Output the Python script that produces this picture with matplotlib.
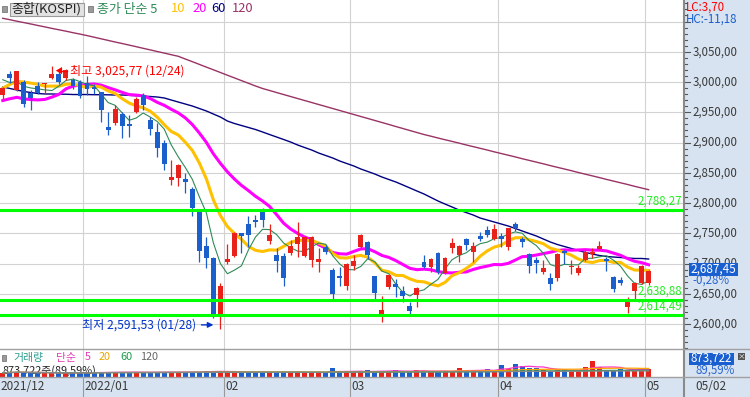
import matplotlib
matplotlib.use('Agg')
import matplotlib.pyplot as plt
import numpy as np
import pandas as pd
from matplotlib.patches import Rectangle, Polygon

plt.rcParams['font.family'] = ['Noto Sans CJK KR', 'DejaVu Sans']

# ---------------- data ----------------
dates = pd.bdate_range('2021-12-15', '2022-05-02', freq='C',
                       holidays=['2021-12-31', '2022-01-31', '2022-02-01', '2022-02-02',
                                 '2022-03-01', '2022-03-09'])

opens = [2978, 3013, 2987, 3000, 2982, 2993, 2996, 3007, 3014, 3006, 3003, 3000,
         2998, 2992, 2983, 2926, 2932, 2947, 2931, 2950, 2978, 2937, 2918, 2900, 2838, 2841, 2839, 2823, 2786, 2729, 2709, 2617,
         2703, 2712, 2750, 2766, 2772, 2787, 2738, 2714, 2712, 2718, 2732, 2712, 2705, 2703, 2728, 2689, 2679, 2662,
         2696, 2728, 2736, 2679, 2617, 2661, 2666, 2655, 2630, 2648, 2703, 2695, 2718, 2685, 2725, 2714, 2740, 2719.5, 2745.5, 2755, 2740,
         2746, 2728, 2766, 2740, 2716, 2706, 2685.5, 2676, 2675.5, 2720, 2694, 2684, 2706, 2716, 2724, 2707, 2678, 2673, 2628.6, 2655, 2667,
         2667.5]
highs = [2992, 3019, 3019, 3003, 2987, 3000, 2999, 3025.77, 3018, 3022, 3006, 3003,
         3010, 2996, 2984, 2951, 2962, 2951, 2945, 2975, 2981, 2942, 2932, 2904, 2871, 2864, 2849, 2827, 2787, 2744, 2711, 2668,
         2733, 2752, 2751, 2778, 2780, 2791, 2766, 2725, 2717, 2739, 2769, 2746, 2745, 2725, 2730, 2692, 2694, 2701,
         2714, 2748, 2738, 2680, 2646, 2681, 2674, 2662, 2637, 2661, 2714, 2709, 2719, 2710, 2742, 2731, 2742, 2736, 2752.6, 2762, 2765,
         2750, 2759, 2769, 2743, 2718, 2711, 2706, 2684, 2717, 2722, 2706, 2697, 2722, 2725, 2737, 2711, 2680, 2678, 2644, 2670, 2697,
         2690]
lows = [2970, 2998, 2985, 2958, 2954, 2980, 2980, 3005, 2996, 3004, 2989, 2974,
        2978, 2980, 2934, 2912, 2929, 2908, 2909, 2948, 2954, 2912, 2876, 2855, 2830, 2828, 2816, 2778, 2703, 2692, 2610, 2591.53,
        2700, 2710, 2718, 2728, 2761, 2761, 2733, 2686, 2663, 2714, 2710, 2710, 2694, 2686, 2716, 2642, 2663, 2656,
        2689, 2725, 2708, 2642, 2604, 2658, 2644, 2637, 2617, 2628, 2692, 2686, 2683, 2683, 2718, 2703, 2722, 2703, 2737.7, 2743, 2739,
        2728, 2722, 2754, 2728, 2685, 2684, 2683, 2656, 2671, 2700, 2683, 2681, 2704, 2709, 2723, 2688, 2653, 2664, 2617.7, 2641, 2666,
        2664]
closes = [2989.39, 3006.41, 3017.73, 2963.00, 2974.0, 2982.0, 2998.17, 3012.43, 2999.55, 3020.24, 2993.29, 2977.65,
          2988.77, 2989.24, 2953.97, 2920.53, 2954.89, 2926.72, 2927.38, 2972.48, 2962.09, 2921.92, 2890.10, 2864.24, 2842.28,
          2862.68, 2834.29, 2792.00, 2720.39, 2709.24, 2614.49, 2663.34,
          2707.82, 2750.26, 2745.06, 2746.47, 2768.85, 2771.93, 2747.71, 2704.48, 2676.54, 2729.68, 2744.09, 2744.52, 2743.80,
          2706.79, 2719.53, 2648.80, 2676.76, 2699.18,
          2703.52, 2747.08, 2713.43, 2651.31, 2622.40, 2680.32, 2661.28, 2645.65, 2621.53, 2659.23, 2694.51, 2707.62, 2686.05,
          2708.6, 2734.4, 2729.0, 2729.98, 2729.56, 2741.07, 2746.74, 2757.65,
          2739.85, 2757.90, 2759.20, 2735.03, 2695.86, 2700.39, 2693.10, 2666.76, 2716.49, 2716.71, 2696.06, 2693.21, 2718.69,
          2718.89, 2728.21, 2704.71, 2657.13, 2668.31, 2639.06, 2667.48, 2695.05,
          2687.45]
# closes of the 19 sessions before the first candle (for the 5/10/20 moving averages)
prior_closes = [2947.38, 2971.02, 3013.25, 2997.33, 2994.29, 2980.27, 2936.44, 2909.32, 2839.01, 2899.72,
                2945.27, 2968.33, 2973.25, 2991.72, 3001.80, 3029.57, 3010.23, 3001.66, 2987.95]

ma60 = [2991.7, 2989.3, 2986.8, 2984.3, 2982.6, 2981.0, 2980.2, 2980.2, 2979.8, 2979.8, 2979.3, 2979.3, 2979.3, 2979.0,
        2979.0, 2978.8, 2978.5, 2978.5, 2978.0, 2977.3, 2976.9, 2976.0, 2975.2, 2973.6, 2970.2, 2966.9, 2963.6, 2960.3,
        2956.2, 2952.1, 2947.1, 2942.1, 2935.5, 2931.4, 2928.1, 2924.8, 2921.5, 2917.4, 2913.2, 2909.1, 2905.0, 2900.8,
        2895.9, 2891.7, 2887.6, 2882.6, 2878.5, 2874.4, 2869.4, 2865.3, 2861.2, 2856.2, 2852.1, 2847.9, 2843.0, 2838.8,
        2834.7, 2829.8, 2824.8, 2819.8, 2814.9, 2809.1, 2803.3, 2798.3, 2793.4, 2788.4, 2784.3, 2780.2, 2775.2, 2771.9,
        2768.6, 2765.3, 2762.0, 2757.9, 2753.7, 2749.6, 2745.5, 2740.5, 2735.5, 2731.4, 2728.1, 2724.8, 2721.5, 2718.2,
        2715.7, 2713.2, 2711.6, 2710.7, 2709.9, 2709.1, 2708.3, 2708.3, 2707.4]
ma120 = [3105.3, 3103.0, 3100.5, 3098.2, 3095.9, 3093.4, 3091.1, 3088.6, 3086.3, 3084.0, 3081.5, 3079.2, 3076.7, 3074.1,
         3071.4, 3068.8, 3066.1, 3063.6, 3061.0, 3058.4, 3055.7, 3053.1, 3050.4, 3047.8, 3045.1, 3042.5, 3038.0, 3033.6,
         3029.1, 3024.6, 3020.2, 3015.7, 3011.2, 3006.8, 3002.3, 2997.9, 2993.4, 2989.3, 2986.0, 2982.6, 2979.3, 2976.0,
         2972.7, 2969.4, 2966.1, 2962.8, 2959.5, 2956.2, 2952.9, 2949.6, 2946.3, 2943.0, 2939.7, 2936.4, 2933.1, 2929.8,
         2926.4, 2923.1, 2919.8, 2916.5, 2913.2, 2910.4, 2907.4, 2904.6, 2901.8, 2899.0, 2896.0, 2893.2, 2890.4, 2887.6,
         2884.6, 2881.8, 2879.0, 2876.2, 2873.2, 2870.4, 2867.6, 2864.8, 2861.8, 2859.0, 2856.2, 2853.4, 2850.4, 2847.6,
         2844.8, 2842.0, 2839.0, 2836.2, 2833.4, 2830.6, 2827.6, 2824.8, 2822.0]

# volume (thousand shares)
volumes = [470000, 520000, 560000, 500000, 480000, 450000, 470000, 430000, 410000, 480000, 500000, 470000,
           460000, 500000, 520000, 560000, 540000, 530000, 500000, 560000, 500000, 520000, 540000, 560000, 560000,
           500000, 550000, 560000, 600000, 640000, 660000, 640000,
           520000, 560000, 500000, 520000, 560000, 540000, 520000, 500000, 560000, 540000, 520000, 500000, 480000,
           500000, 520000, 990000, 560000, 520000,
           540000, 620000, 800000, 620000, 640000, 620000, 800000, 600000, 580000, 800000, 680000, 620000, 600000,
           620000, 700000, 990000, 640000, 660000, 700000, 890000, 780000,
           1330000, 900000, 1510000, 1250000, 1020000, 1020000, 820000, 700000, 760000, 800000, 700000, 760000,
           1130000, 1780000, 1130000, 760000, 800000, 900000, 820000, 780000, 880000,
           873722]
volume_share_pct = '89,59%'

support_levels = [2788.27, 2638.88, 2614.49]
hi_label = '최고 3,025,77 (12/24)'
lo_label = '최저 2,591,53 (01/28)'
last_price = '2,687,45'
last_change = '-0,28%'

# ---------------- layout helpers ----------------
W, H = 750, 397
fig = plt.figure(figsize=(W / 100, H / 100), dpi=100)
fig.patch.set_facecolor('white')


def add_ax(x0, y0, x1, y1, **kw):
    return fig.add_axes([x0 / W, 1 - y1 / H, (x1 - x0) / W, (y1 - y0) / H], **kw)


def kfmt(v):
    return f'{v:,.2f}'.replace('.', ',')


PX0, PXS = 2.77, 7.02
XMIN, XMAX = -PX0 / PXS, (684 - PX0) / PXS
PTOP = 2800 + 203 / 0.605
PBOT = 2800 - (349 - 203) / 0.605
PANEL = '#d7e3f0'
RED, BLUE = '#e8221b', '#1b5fcc'

n = len(closes)
idx = np.arange(n)
allc = pd.Series(prior_closes + closes)
ma5 = allc.rolling(5).mean().values[-n:]
ma10 = allc.rolling(10).mean().values[-n:]
ma20 = allc.rolling(20).mean().values[-n:]

month_start = [i for i in range(1, n) if dates[i].month != dates[i - 1].month]

# ---------------- main price panel ----------------
ax = add_ax(0, 0, 684, 349)
ax.set_xlim(XMIN, XMAX)
ax.set_ylim(PBOT, PTOP)
ax.axis('off')
for v in range(2600, 3101, 50):
    ax.axhline(v, color='#d2d2d2', lw=0.8, zorder=0)
for i in month_start:
    ax.axvline(i - 0.5, color='#d2d2d2', lw=0.8, zorder=0)

ax.plot(idx, ma120, color='#993366', lw=1.0, zorder=2)
ax.plot(idx, ma60, color='#000080', lw=1.0, zorder=2)
ax.plot(idx, ma20, color='#ff00ff', lw=2.2, zorder=2)
ax.plot(idx, ma10, color='#ffc000', lw=2.2, zorder=2)
ax.plot(idx, ma5, color='#2e8b57', lw=0.8, zorder=2)

for i in range(n):
    o, h, l, c = opens[i], highs[i], lows[i], closes[i]
    col = RED if c >= o else BLUE
    ax.vlines(i, l, h, color=col, lw=0.9, zorder=3)
    bot = min(o, c)
    hgt = max(abs(c - o), 1.6)
    ax.add_patch(Rectangle((i - 0.35, bot), 0.7, hgt, facecolor=col, edgecolor='none', zorder=4))

for lv in support_levels:
    ax.axhline(lv, color='#00ff00', lw=2.2, zorder=5)
    ax.annotate(kfmt(lv), xy=((682 - PX0) / PXS, lv), xytext=(0, 6.6),
                textcoords='offset points', ha='right', va='center', color='#22ee22', fontsize=8.3, zorder=6)

# high / low annotations
ih = int(np.argmax(highs))
yh = highs[ih] - 7
ax.add_patch(Polygon([[ih + 0.55, yh], [ih + 1.45, yh + 6], [ih + 1.45, yh - 6]], closed=True,
                     facecolor='#ff0000', edgecolor='none', zorder=6))
ax.plot([ih + 1.4, ih + 2.2], [yh, yh], color='#ff0000', lw=1.0, zorder=6)
ax.text(ih + 2.55, yh, hi_label, color='#ff0000', fontsize=8.7, va='center', ha='left', zorder=6)

il = int(np.argmin(lows))
yl = lows[il] + 7
ax.annotate('', xy=(il - 0.6, yl), xytext=(il - 3.1, yl),
            arrowprops=dict(arrowstyle='-|>', color='#0033cc', lw=1.0, mutation_scale=8), zorder=6)
ax.text(il - 3.5, yl, lo_label, color='#0033cc', fontsize=8.7, va='center', ha='right', zorder=6)

# ---------------- right price scale ----------------
axr = add_ax(684, 0, 750, 349)
axr.set_xlim(0, 66)
axr.set_ylim(PBOT, PTOP)
axr.set_facecolor(PANEL)
for s in ['top', 'right', 'bottom']:
    axr.spines[s].set_visible(False)
axr.spines['left'].set_color('#8a8a8a')
axr.spines['left'].set_linewidth(1.5)
axr.set_xticks([]); axr.set_yticks([])
for v in range(2560, 3131, 10):
    L = 6 if v % 50 == 0 else 3
    axr.plot([0, L], [v, v], color='#555555', lw=0.8)
for v in range(2600, 3051, 50):
    axr.text(8.5, v, kfmt(v), va='center', ha='left', fontsize=8.3, color='#3a3a3a')
last_close = closes[-1]
axr.add_patch(Rectangle((4.5, last_close + 2.9 - 10.3), 49.5, 20.6, facecolor='#1a5fd0', edgecolor='none', zorder=5))
axr.text(29, last_close + 2.9, last_price, color='white', fontsize=8.5, ha='center', va='center', zorder=6)
axr.text(8, last_close - 15.5, last_change, color='#2a66d0', fontsize=8.3, ha='left', va='center', zorder=6)

# ---------------- volume panel ----------------
axv = add_ax(0, 349, 684, 377)
axv.set_xlim(XMIN, XMAX)
VMAX = 3.15e6
axv.set_ylim(-0.01e6, VMAX)
axv.axis('off')
for i in month_start:
    axv.axvline(i - 0.5, color='#d2d2d2', lw=0.8, zorder=0)
vcol = [RED if closes[i] >= opens[i] else BLUE for i in range(n)]
axv.bar(idx, volumes, width=0.72, color=vcol, zorder=3)
vs = pd.Series(volumes, dtype=float)
axv.plot(idx, vs.rolling(5, min_periods=1).mean(), color='#ff33cc', lw=0.9, zorder=4)
axv.plot(idx, vs.rolling(20, min_periods=1).mean(), color='#ffa500', lw=0.9, zorder=4)
axv.plot(idx, vs.rolling(60, min_periods=1).mean(), color='#1a9a4a', lw=0.9, zorder=4)
axv.plot(idx, vs.rolling(120, min_periods=1).mean(), color='#888888', lw=0.9, zorder=4)
axv.text(0.003, 0.24, f'{volumes[-1]:,.0f}주({volume_share_pct})', transform=axv.transAxes, fontsize=7.8,
         color='#222222', va='center', ha='left', zorder=2)

axvr = add_ax(684, 349, 750, 377)
axvr.set_facecolor(PANEL)
axvr.set_xlim(0, 66); axvr.set_ylim(28, 0)
axvr.set_xticks([]); axvr.set_yticks([])
for s in ['top', 'right', 'bottom']:
    axvr.spines[s].set_visible(False)
axvr.spines['left'].set_color('#8a8a8a'); axvr.spines['left'].set_linewidth(1.5)
axvr.add_patch(Rectangle((5, 3.5), 45, 12, facecolor='#1a5fd0', edgecolor='none'))
axvr.text(27.5, 9.5, f'{volumes[-1]:,.0f}', color='white', fontsize=8.3, ha='center', va='center')
axvr.add_patch(Rectangle((54, 4), 7, 6.5, facecolor='#555555', edgecolor='none'))
axvr.text(57.5, 7.2, '×', color='white', fontsize=5.5, ha='center', va='center')
axvr.text(12, 21.5, volume_share_pct, color='#2a66d0', fontsize=8.3, ha='left', va='center')

# ---------------- date axis ----------------
axd = add_ax(0, 377, 684, 397)
axd.set_facecolor(PANEL)
axd.set_xlim(XMIN, XMAX); axd.set_ylim(0, 1)
axd.set_xticks([]); axd.set_yticks([])
for s in axd.spines.values():
    s.set_visible(False)
axd.text(XMIN + 0.1, 0.5, dates[0].strftime('%Y/%m'), fontsize=8.5, color='#3a3a3a', va='center', ha='left')
for i in month_start:
    axd.axvline(i - 0.5, color='#9a9a9a', lw=0.8)
    lab = dates[i].strftime('%Y/%m') if dates[i].year != dates[i - 1].year else dates[i].strftime('%m')
    axd.text(i - 0.5 + 0.2, 0.5, lab, fontsize=8.5, color='#3a3a3a', va='center', ha='left')

axdr = add_ax(684, 377, 750, 397)
axdr.set_facecolor(PANEL)
axdr.set_xticks([]); axdr.set_yticks([])
for s in ['top', 'right', 'bottom']:
    axdr.spines[s].set_visible(False)
axdr.spines['left'].set_color('#8a8a8a'); axdr.spines['left'].set_linewidth(1.5)
axdr.text(0.17, 0.5, dates[-1].strftime('%m/%d'), transform=axdr.transAxes, fontsize=8.5,
          color='#3a3a3a', va='center', ha='left')

# ---------------- overlay (legends, separators) ----------------
ov = add_ax(0, 0, 750, 397)
ov.set_xlim(0, W); ov.set_ylim(H, 0)
ov.axis('off')
ov.patch.set_alpha(0)
ov.plot([0, 750], [349, 349], color='#a0a0a0', lw=1.0)
ov.plot([0, 750], [377, 377], color='#a0a0a0', lw=1.0)

# price legend
ov.add_patch(Rectangle((2, 5.5), 5, 6, facecolor='#9a9a9a', edgecolor='#6a6a6a', lw=0.5))
ov.add_patch(Rectangle((9.5, 2.5), 74, 13, facecolor='#e2e2e2', edgecolor='#9a9a9a', lw=0.8))
ov.text(11.5, 9, '종합(KOSPI)', fontsize=9.3, color='#222222', va='center', ha='left')
ov.add_patch(Rectangle((88, 5.5), 5, 6, facecolor='#9a9a9a', edgecolor='#6a6a6a', lw=0.5))
for txt, xx, col in [('종가 단순 5', 97, '#2e8b57'), ('10', 171, '#ffc000'), ('20', 192, '#ff00ff'),
                     ('60', 211, '#000080'), ('120', 232, '#993366')]:
    ov.text(xx, 9, txt, fontsize=9.3, color=col, va='center', ha='left')

ov.text(686, 7.5, 'LC:3,70', fontsize=8.3, color='#ff0000', va='center', ha='left')
ov.text(686, 19, 'HC:-11,18', fontsize=8.3, color='#1a5fd0', va='center', ha='left')

# volume legend
ov.add_patch(Rectangle((2, 355), 4, 6, facecolor='#9a9a9a', edgecolor='#6a6a6a', lw=0.5))
for txt, xx, col in [('거래량', 13, '#2a9d8f'), ('단순', 56, '#e03cb4'), ('5', 85, '#e03cb4'),
                     ('20', 99, '#e6a700'), ('60', 120, '#1a9a4a'), ('120', 140, '#666666')]:
    ov.text(xx, 357.5, txt, fontsize=7.8, color=col, va='center', ha='left')

fig.savefig('out.png', dpi=100)
